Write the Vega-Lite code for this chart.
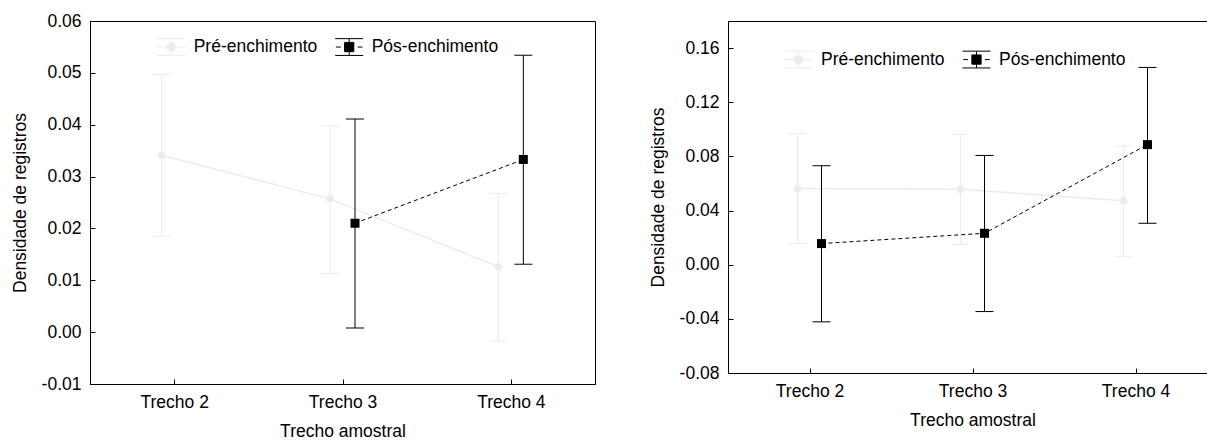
{
  "$schema": "https://vega.github.io/schema/vega-lite/v6.json",
  "background": "white",
  "padding": {"left": 10, "top": 11, "right": 0, "bottom": 0},
  "bounds": "flush",
  "spacing": 133,
  "datasets": {
    "esq": [
      {"trecho": "Trecho 2", "grupo": "Pré-enchimento", "media": 0.0341, "lo": 0.0185, "hi": 0.0497},
      {"trecho": "Trecho 3", "grupo": "Pré-enchimento", "media": 0.0257, "lo": 0.0113, "hi": 0.0398},
      {"trecho": "Trecho 4", "grupo": "Pré-enchimento", "media": 0.0126, "lo": -0.0017, "hi": 0.0267},
      {"trecho": "Trecho 3", "grupo": "Pós-enchimento", "media": 0.0210, "lo": 0.0008, "hi": 0.0411},
      {"trecho": "Trecho 4", "grupo": "Pós-enchimento", "media": 0.0333, "lo": 0.0131, "hi": 0.0534}
    ],
    "dir": [
      {"trecho": "Trecho 2", "grupo": "Pré-enchimento", "media": 0.0563, "lo": 0.0156, "hi": 0.0970},
      {"trecho": "Trecho 3", "grupo": "Pré-enchimento", "media": 0.0557, "lo": 0.0150, "hi": 0.0963},
      {"trecho": "Trecho 4", "grupo": "Pré-enchimento", "media": 0.0472, "lo": 0.0059, "hi": 0.0876},
      {"trecho": "Trecho 2", "grupo": "Pós-enchimento", "media": 0.0156, "lo": -0.0422, "hi": 0.0731},
      {"trecho": "Trecho 3", "grupo": "Pós-enchimento", "media": 0.0232, "lo": -0.0346, "hi": 0.0807},
      {"trecho": "Trecho 4", "grupo": "Pós-enchimento", "media": 0.0887, "lo": 0.0306, "hi": 0.1457}
    ]
  },
  "config": {
    "font": "Liberation Sans",
    "view": {"stroke": "#000", "strokeWidth": 1},
    "axis": {
      "labelFont": "Liberation Sans", "labelFontSize": 17.5, "labelColor": "#000",
      "titleFont": "Liberation Sans", "titleFontSize": 17.5, "titleFontWeight": "normal", "titleColor": "#000",
      "domainColor": "#000", "domainWidth": 1, "tickColor": "#000", "tickSize": -5, "grid": false
    },
    "axisX": {"labelPadding": 14, "titlePadding": 12, "labelAngle": 0},
    "axisY": {"labelPadding": 14, "titlePadding": 12}
  },
  "resolve": {"scale": {"color": "independent"}, "legend": {"color": "independent"}},
  "hconcat": [
    {
      "width": 505,
      "height": 363,
      "data": {"name": "esq"},
      "encoding": {
        "x": {"field": "trecho", "type": "nominal", "title": "Trecho amostral",
          "scale": {"type": "point", "padding": 0.5, "domain": ["Trecho 2", "Trecho 3", "Trecho 4"]}}
      },
      "layer": [
        {
          "transform": [{"filter": "datum.grupo === 'Pré-enchimento'"}],
          "mark": {"type": "rule", "color": "#ececec", "strokeWidth": 1, "xOffset": -12.5},
          "encoding": {
            "y": {"field": "lo", "type": "quantitative", "title": "Densidade de registros",
              "scale": {"domain": [-0.01, 0.06], "nice": false, "zero": false},
              "axis": {"values": [-0.01, 0, 0.01, 0.02, 0.03, 0.04, 0.05, 0.06],
                "labelExpr": "(datum.value < 0 ? '-' : '') + format(abs(datum.value), '.2f')"}},
            "y2": {"field": "hi"}
          }
        },
        {
          "transform": [{"filter": "datum.grupo === 'Pré-enchimento'"}],
          "mark": {"type": "tick", "color": "#ececec", "thickness": 1, "size": 18, "opacity": 1, "xOffset": -12.5},
          "encoding": {"y": {"field": "lo", "type": "quantitative", "title": "Densidade de registros"}}
        },
        {
          "transform": [{"filter": "datum.grupo === 'Pré-enchimento'"}],
          "mark": {"type": "tick", "color": "#ececec", "thickness": 1, "size": 18, "opacity": 1, "xOffset": -12.5},
          "encoding": {"y": {"field": "hi", "type": "quantitative", "title": "Densidade de registros"}}
        },
        {
          "transform": [{"filter": "datum.grupo === 'Pré-enchimento'"}],
          "mark": {"type": "line", "color": "#ececec", "strokeWidth": 1.5, "xOffset": -12.5},
          "encoding": {"y": {"field": "media", "type": "quantitative", "title": "Densidade de registros"}}
        },
        {
          "transform": [{"filter": "datum.grupo === 'Pré-enchimento'"}],
          "mark": {"type": "point", "filled": true, "shape": "circle", "size": 59, "opacity": 1, "xOffset": -12.5},
          "encoding": {
            "y": {"field": "media", "type": "quantitative", "title": "Densidade de registros"},
            "color": {"field": "grupo", "type": "nominal",
              "scale": {"domain": ["Pré-enchimento", "Pós-enchimento"], "range": ["#ececec", "#000000"]},
              "legend": {"title": null, "orient": "none", "legendX": 66.7, "legendY": 11.5, "direction": "horizontal",
                "symbolSize": 784, "labelFont": "Liberation Sans", "labelFontSize": 17.5, "labelColor": "#000",
                "labelOffset": 8, "columnPadding": 15, "padding": 0, "symbolStrokeWidth": 1, "symbolOpacity": 1,
                "encode": {"symbols": {"update": {
                  "shape": {"signal": "datum.value === 'Pré-enchimento' ? 'M-1,-0.6H1M-1,0.6H1M0,-0.6V0.6M-1,0H1M0.3,0A0.3,0.3,0,1,1,-0.3,0A0.3,0.3,0,1,1,0.3,0Z' : 'M-1,-0.6H1M-1,0.6H1M0,-0.6V0.6M-0.95,0H-0.6M0.6,0H0.95M-0.33,-0.33H0.33V0.33H-0.33Z'"},
                  "fill": {"signal": "datum.value === 'Pré-enchimento' ? '#ececec' : '#000000'"},
                  "stroke": {"signal": "datum.value === 'Pré-enchimento' ? '#ececec' : '#000000'"},
                  "strokeWidth": {"value": 1},
                  "opacity": {"value": 1}
                }}}}}
          }
        },
        {
          "transform": [{"filter": "datum.grupo === 'Pós-enchimento'"}],
          "mark": {"type": "rule", "color": "#000", "strokeWidth": 1, "xOffset": 12.5},
          "encoding": {
            "y": {"field": "lo", "type": "quantitative", "title": "Densidade de registros"},
            "y2": {"field": "hi"}
          }
        },
        {
          "transform": [{"filter": "datum.grupo === 'Pós-enchimento'"}],
          "mark": {"type": "tick", "color": "#000", "thickness": 1, "size": 18, "opacity": 1, "xOffset": 12.5},
          "encoding": {"y": {"field": "lo", "type": "quantitative", "title": "Densidade de registros"}}
        },
        {
          "transform": [{"filter": "datum.grupo === 'Pós-enchimento'"}],
          "mark": {"type": "tick", "color": "#000", "thickness": 1, "size": 18, "opacity": 1, "xOffset": 12.5},
          "encoding": {"y": {"field": "hi", "type": "quantitative", "title": "Densidade de registros"}}
        },
        {
          "transform": [{"filter": "datum.grupo === 'Pós-enchimento'"}],
          "mark": {"type": "line", "color": "#000", "strokeWidth": 1, "strokeDash": [4, 3], "xOffset": 12.5},
          "encoding": {"y": {"field": "media", "type": "quantitative", "title": "Densidade de registros"}}
        },
        {
          "transform": [{"filter": "datum.grupo === 'Pós-enchimento'"}],
          "mark": {"type": "point", "filled": true, "shape": "square", "size": 81, "opacity": 1, "xOffset": 12.5},
          "encoding": {
            "y": {"field": "media", "type": "quantitative", "title": "Densidade de registros"},
            "color": {"field": "grupo", "type": "nominal",
              "scale": {"domain": ["Pré-enchimento", "Pós-enchimento"], "range": ["#ececec", "#000000"]}}
          }
        }
      ]
    },
    {
      "width": 489,
      "height": 352,
      "data": {"name": "dir"},
      "encoding": {
        "x": {"field": "trecho", "type": "nominal", "title": "Trecho amostral",
          "scale": {"type": "point", "padding": 0.5, "domain": ["Trecho 2", "Trecho 3", "Trecho 4"]}}
      },
      "layer": [
        {
          "transform": [{"filter": "datum.grupo === 'Pré-enchimento'"}],
          "mark": {"type": "rule", "color": "#ececec", "strokeWidth": 1, "xOffset": -12},
          "encoding": {
            "y": {"field": "lo", "type": "quantitative", "title": "Densidade de registros",
              "scale": {"domain": [-0.08, 0.18], "nice": false, "zero": false},
              "axis": {"values": [-0.08, -0.04, 0, 0.04, 0.08, 0.12, 0.16],
                "labelExpr": "(datum.value < 0 ? '-' : '') + format(abs(datum.value), '.2f')"}},
            "y2": {"field": "hi"}
          }
        },
        {
          "transform": [{"filter": "datum.grupo === 'Pré-enchimento'"}],
          "mark": {"type": "tick", "color": "#ececec", "thickness": 1, "size": 18, "opacity": 1, "xOffset": -12},
          "encoding": {"y": {"field": "lo", "type": "quantitative", "title": "Densidade de registros"}}
        },
        {
          "transform": [{"filter": "datum.grupo === 'Pré-enchimento'"}],
          "mark": {"type": "tick", "color": "#ececec", "thickness": 1, "size": 18, "opacity": 1, "xOffset": -12},
          "encoding": {"y": {"field": "hi", "type": "quantitative", "title": "Densidade de registros"}}
        },
        {
          "transform": [{"filter": "datum.grupo === 'Pré-enchimento'"}],
          "mark": {"type": "line", "color": "#ececec", "strokeWidth": 1.5, "xOffset": -12},
          "encoding": {"y": {"field": "media", "type": "quantitative", "title": "Densidade de registros"}}
        },
        {
          "transform": [{"filter": "datum.grupo === 'Pré-enchimento'"}],
          "mark": {"type": "point", "filled": true, "shape": "circle", "size": 59, "opacity": 1, "xOffset": -12},
          "encoding": {
            "y": {"field": "media", "type": "quantitative", "title": "Densidade de registros"},
            "color": {"field": "grupo", "type": "nominal",
              "scale": {"domain": ["Pré-enchimento", "Pós-enchimento"], "range": ["#ececec", "#000000"]},
              "legend": {"title": null, "orient": "none", "legendX": 56, "legendY": 24, "direction": "horizontal",
                "symbolSize": 784, "labelFont": "Liberation Sans", "labelFontSize": 17.5, "labelColor": "#000",
                "labelOffset": 8, "columnPadding": 15, "padding": 0, "symbolStrokeWidth": 1, "symbolOpacity": 1,
                "encode": {"symbols": {"update": {
                  "shape": {"signal": "datum.value === 'Pré-enchimento' ? 'M-1,-0.6H1M-1,0.6H1M0,-0.6V0.6M-1,0H1M0.3,0A0.3,0.3,0,1,1,-0.3,0A0.3,0.3,0,1,1,0.3,0Z' : 'M-1,-0.6H1M-1,0.6H1M0,-0.6V0.6M-0.95,0H-0.6M0.6,0H0.95M-0.33,-0.33H0.33V0.33H-0.33Z'"},
                  "fill": {"signal": "datum.value === 'Pré-enchimento' ? '#ececec' : '#000000'"},
                  "stroke": {"signal": "datum.value === 'Pré-enchimento' ? '#ececec' : '#000000'"},
                  "strokeWidth": {"value": 1},
                  "opacity": {"value": 1}
                }}}}}
          }
        },
        {
          "transform": [{"filter": "datum.grupo === 'Pós-enchimento'"}],
          "mark": {"type": "rule", "color": "#000", "strokeWidth": 1, "xOffset": 12},
          "encoding": {
            "y": {"field": "lo", "type": "quantitative", "title": "Densidade de registros"},
            "y2": {"field": "hi"}
          }
        },
        {
          "transform": [{"filter": "datum.grupo === 'Pós-enchimento'"}],
          "mark": {"type": "tick", "color": "#000", "thickness": 1, "size": 18, "opacity": 1, "xOffset": 12},
          "encoding": {"y": {"field": "lo", "type": "quantitative", "title": "Densidade de registros"}}
        },
        {
          "transform": [{"filter": "datum.grupo === 'Pós-enchimento'"}],
          "mark": {"type": "tick", "color": "#000", "thickness": 1, "size": 18, "opacity": 1, "xOffset": 12},
          "encoding": {"y": {"field": "hi", "type": "quantitative", "title": "Densidade de registros"}}
        },
        {
          "transform": [{"filter": "datum.grupo === 'Pós-enchimento'"}],
          "mark": {"type": "line", "color": "#000", "strokeWidth": 1, "strokeDash": [4, 3], "xOffset": 12},
          "encoding": {"y": {"field": "media", "type": "quantitative", "title": "Densidade de registros"}}
        },
        {
          "transform": [{"filter": "datum.grupo === 'Pós-enchimento'"}],
          "mark": {"type": "point", "filled": true, "shape": "square", "size": 81, "opacity": 1, "xOffset": 12},
          "encoding": {
            "y": {"field": "media", "type": "quantitative", "title": "Densidade de registros"},
            "color": {"field": "grupo", "type": "nominal",
              "scale": {"domain": ["Pré-enchimento", "Pós-enchimento"], "range": ["#ececec", "#000000"]}}
          }
        }
      ]
    }
  ]
}
